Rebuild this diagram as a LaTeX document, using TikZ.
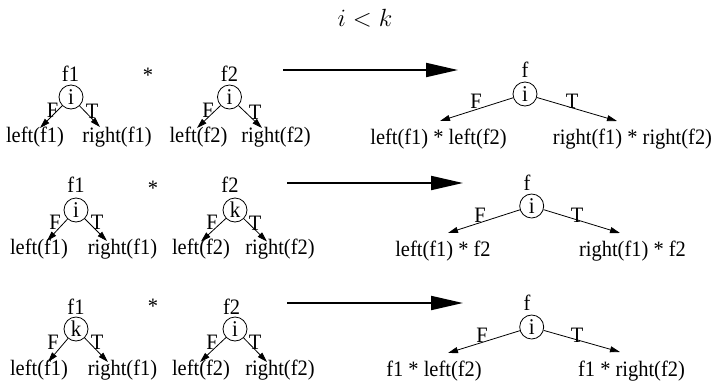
\documentclass[tikz,border=0pt]{standalone}
\usepackage{fontspec}
\setmainfont[FakeStretch=0.93]{Liberation Serif}
\usetikzlibrary{arrows.meta}
\tikzset{
  txt/.style={inner sep=0pt, font=\fontsize{22}{24}\selectfont},
  dnode/.style={circle, draw, line width=0.8pt, minimum size=24pt, inner sep=0pt, font=\fontsize{22.5}{24}\selectfont},
  edge/.style={line width=0.8pt, -{Triangle[length=10pt,width=6pt]}},
  bigarrow/.style={line width=2pt, -{Triangle[length=32pt,width=14pt]}}
}
\begin{document}
\begin{tikzpicture}[x=1pt,y=-1pt]
\useasboundingbox (0,0) rectangle (716,384);
\node[inner sep=0pt, font=\fontsize{28}{30}\selectfont] (title) at (365,18) {$i<k$};

% ---------- Row 1 ----------
\node[txt] (r1f1) at (70.5,74) {f1};
\node[dnode] (r1c1) at (71,97) {i};
\node[txt] (r1F1) at (52.5,110) {F};
\node[txt] (r1T1) at (92,111) {T};
\coordinate (r1a1) at (40,128);
\coordinate (r1b1) at (100,127);
\draw[edge] (r1c1) -- (r1a1);
\draw[edge] (r1c1) -- (r1b1);
\node[txt] (r1l1) at (35,137) {left(f1)};
\node[txt] (r1r1) at (117,137) {right(f1)};
\node[txt] (r1star) at (148,75) {*};
\node[txt] (r1f2) at (229.5,74) {f2};
\node[dnode] (r1c2) at (229.5,97) {i};
\node[txt] (r1F2) at (208,110) {F};
\node[txt] (r1T2) at (255,112) {T};
\coordinate (r1a2) at (197,128);
\coordinate (r1b2) at (262,128);
\draw[edge] (r1c2) -- (r1a2);
\draw[edge] (r1c2) -- (r1b2);
\node[txt] (r1l2) at (198.5,137) {left(f2)};
\node[txt] (r1r2) at (276,137) {right(f2)};
\coordinate (r1s) at (283,70);
\coordinate (r1e) at (458,70);
\draw[bigarrow] (r1s) -- (r1e);
\node[txt] (r1f) at (525,70) {f};
\node[dnode] (r1c) at (525,94) {i};
\node[txt] (r1F) at (476,101) {F};
\node[txt] (r1T) at (572,101) {T};
\coordinate (r1a) at (440,121);
\coordinate (r1b) at (617,121);
\draw[edge] (r1c) -- (r1a);
\draw[edge] (r1c) -- (r1b);
\node[txt] (r1L) at (438.5,139) {left(f1) * left(f2)};
\node[txt] (r1R) at (632.5,139) {right(f1) * right(f2)};

% ---------- Row 2 ----------
\node[txt] (r2f1) at (76,185) {f1};
\node[dnode] (r2c1) at (76,210) {i};
\node[txt] (r2F1) at (55,222) {F};
\node[txt] (r2T1) at (97,222) {T};
\coordinate (r2a1) at (47,241);
\coordinate (r2b1) at (107,241);
\draw[edge] (r2c1) -- (r2a1);
\draw[edge] (r2c1) -- (r2b1);
\node[txt] (r2l1) at (39,249) {left(f1)};
\node[txt] (r2r1) at (122.5,249) {right(f1)};
\node[txt] (r2star) at (153,188) {*};
\node[txt] (r2f2) at (230,185) {f2};
\node[dnode] (r2c2) at (235,210) {k};
\node[txt] (r2F2) at (212,222) {F};
\node[txt] (r2T2) at (255,223) {T};
\coordinate (r2a2) at (201,241.5);
\coordinate (r2b2) at (267,241.5);
\draw[edge] (r2c2) -- (r2a2);
\draw[edge] (r2c2) -- (r2b2);
\node[txt] (r2l2) at (201,249) {left(f2)};
\node[txt] (r2r2) at (280,249) {right(f2)};
\coordinate (r2s) at (287,183);
\coordinate (r2e) at (463,183);
\draw[bigarrow] (r2s) -- (r2e);
\node[txt] (r2f) at (527,183) {f};
\node[dnode] (r2c) at (531.7,206) {i};
\node[txt] (r2F) at (480,215) {F};
\node[txt] (r2T) at (577,215) {T};
\coordinate (r2a) at (448,233);
\coordinate (r2b) at (620,233);
\draw[edge] (r2c) -- (r2a);
\draw[edge] (r2c) -- (r2b);
\node[txt] (r2L) at (443,251) {left(f1) * f2};
\node[txt] (r2R) at (632.5,251) {right(f1) * f2};

% ---------- Row 3 ----------
\node[txt] (r3f1) at (76,307) {f1};
\node[dnode] (r3c1) at (76,329) {k};
\node[txt] (r3F1) at (53,342) {F};
\node[txt] (r3T1) at (97,342) {T};
\coordinate (r3a1) at (48,362);
\coordinate (r3b1) at (108,362);
\draw[edge] (r3c1) -- (r3a1);
\draw[edge] (r3c1) -- (r3b1);
\node[txt] (r3l1) at (39,370) {left(f1)};
\node[txt] (r3r1) at (122.5,370) {right(f1)};
\node[txt] (r3star) at (153,306) {*};
\node[txt] (r3f2) at (231.7,307) {f2};
\node[dnode] (r3c2) at (235,329) {i};
\node[txt] (r3F2) at (212,342) {F};
\node[txt] (r3T2) at (255,342) {T};
\coordinate (r3a2) at (200,362);
\coordinate (r3b2) at (267,362);
\draw[edge] (r3c2) -- (r3a2);
\draw[edge] (r3c2) -- (r3b2);
\node[txt] (r3l2) at (201,370) {left(f2)};
\node[txt] (r3r2) at (280,370) {right(f2)};
\coordinate (r3s) at (287,303);
\coordinate (r3e) at (463,303);
\draw[bigarrow] (r3s) -- (r3e);
\node[txt] (r3f) at (527,303) {f};
\node[dnode] (r3c) at (531.7,327) {i};
\node[txt] (r3F) at (482,335) {F};
\node[txt] (r3T) at (577,335) {T};
\coordinate (r3a) at (448,353);
\coordinate (r3b) at (620,352);
\draw[edge] (r3c) -- (r3a);
\draw[edge] (r3c) -- (r3b);
\node[txt] (r3L) at (434,371) {f1 * left(f2)};
\node[txt] (r3R) at (631.5,371) {f1 * right(f2)};
\end{tikzpicture}
\end{document}
